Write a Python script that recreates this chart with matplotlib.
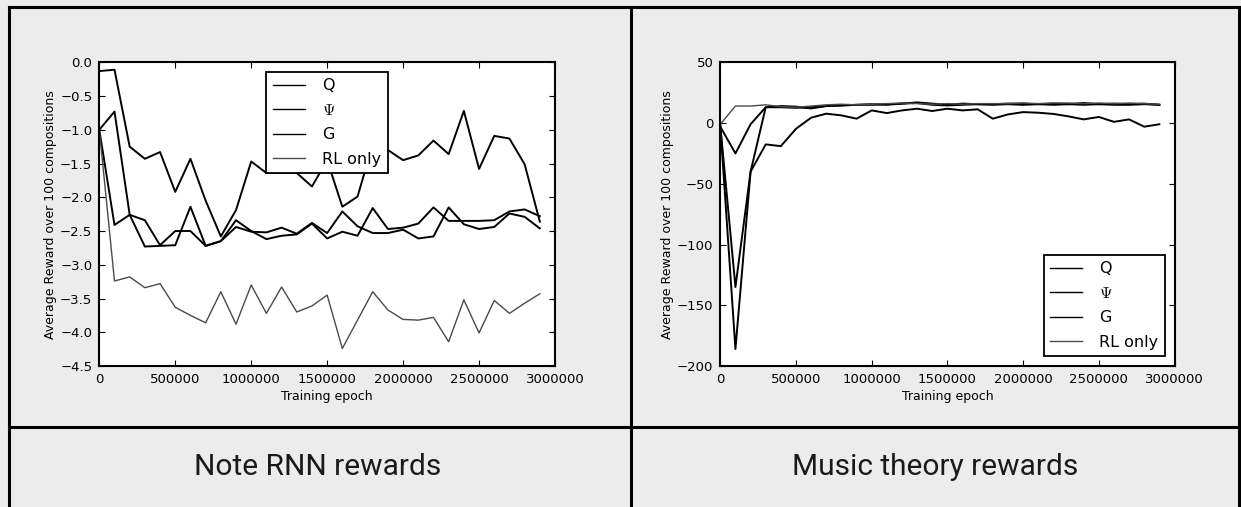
import numpy as np
import matplotlib
matplotlib.use("Agg")
import matplotlib.pyplot as plt
from matplotlib.lines import Line2D

plt.rcParams["mathtext.fontset"] = "cm"

# training epochs, one point every 100000
epochs = [0, 100000, 200000, 300000, 400000, 500000, 600000, 700000, 800000, 900000,
          1000000, 1100000, 1200000, 1300000, 1400000, 1500000, 1600000, 1700000, 1800000, 1900000,
          2000000, 2100000, 2200000, 2300000, 2400000, 2500000, 2600000, 2700000, 2800000, 2900000]

series_labels = ["Q", r"$\Psi$", "G", "RL only"]

# Note RNN rewards (left panel)
note_q = [-0.13, -0.11, -1.25, -1.43, -1.33, -1.92, -1.43, -2.05, -2.58, -2.19,
          -1.47, -1.64, -1.64, -1.64, -1.84, -1.45, -2.14, -1.99, -1.22, -1.30,
          -1.45, -1.38, -1.16, -1.36, -0.72, -1.58, -1.09, -1.13, -1.51, -2.36]
note_psi = [-1.0, -2.41, -2.26, -2.34, -2.71, -2.50, -2.50, -2.72, -2.65, -2.34,
            -2.50, -2.62, -2.57, -2.55, -2.39, -2.61, -2.51, -2.57, -2.16, -2.47,
            -2.45, -2.39, -2.15, -2.35, -2.35, -2.35, -2.34, -2.21, -2.18, -2.28]
note_g = [-1.0, -0.73, -2.26, -2.73, -2.72, -2.71, -2.14, -2.72, -2.65, -2.44,
          -2.51, -2.52, -2.45, -2.54, -2.38, -2.53, -2.21, -2.43, -2.53, -2.53,
          -2.48, -2.61, -2.58, -2.15, -2.40, -2.47, -2.44, -2.24, -2.29, -2.46]
note_rl = [-1.0, -3.24, -3.18, -3.34, -3.28, -3.63, -3.75, -3.86, -3.40, -3.88,
           -3.30, -3.72, -3.33, -3.70, -3.61, -3.45, -4.24, -3.82, -3.40, -3.67,
           -3.81, -3.82, -3.78, -4.14, -3.52, -4.01, -3.53, -3.72, -3.57, -3.43]

# Music theory rewards (right panel)
theory_q = [-3, -25, -1, 13, 14, 13.5, 12, 14, 14.5, 15,
            15.5, 15, 16, 17, 16, 15, 16, 15.5, 15.5, 16,
            16, 15.5, 16, 15.5, 16.5, 15.5, 16, 15.5, 16, 15]
theory_psi = [-2, -186, -40, 13, 13, 12.5, 13, 14, 14.5, 15,
              15, 15.5, 16, 16.5, 15, 14.5, 15, 15.5, 15, 15.5,
              15, 15.5, 15, 15.5, 15, 15.5, 15, 15, 15.5, 15]
theory_g = [-2, -135, -40, -17.6, -19, -4.7, 4.4, 7.7, 6.3, 3.6,
            10.4, 8.2, 10.4, 11.8, 9.9, 11.8, 10.4, 11.3, 3.6, 7.1,
            9, 8.5, 7.5, 5.5, 3, 5, 1, 3, -3, -1]
theory_rl = [-1, 14, 14, 15, 13.5, 13, 14, 15, 15.5, 15,
             15.5, 16, 16.5, 16, 15.5, 16, 15.5, 16, 16, 16,
             16.5, 16, 16.5, 16.5, 16, 16.5, 16, 16.5, 16, 15.5]

captions = ["Note RNN rewards", "Music theory rewards"]
x_ticks = [0, 500000, 1000000, 1500000, 2000000, 2500000, 3000000]
note_yticks = [0.0, -0.5, -1.0, -1.5, -2.0, -2.5, -3.0, -3.5, -4.0, -4.5]
theory_yticks = [50, 0, -50, -100, -150, -200]

W, H = 1241, 507
fig = plt.figure(figsize=(W / 100, H / 100), dpi=100)
fig.patch.set_facecolor("#ececec")


def fx(px):
    return px / W


def fy(py):
    return 1 - py / H


# table grid lines
grid_kw = dict(color="black", lw=2.2, transform=fig.transFigure, zorder=5)
fig.add_artist(Line2D([fx(9), fx(1239)], [fy(7), fy(7)], **grid_kw))
fig.add_artist(Line2D([fx(9), fx(1239)], [fy(427), fy(427)], **grid_kw))
for xpos in [9, 631, 1239]:
    fig.add_artist(Line2D([fx(xpos), fx(xpos)], [fy(7), fy(507)], **grid_kw))

# captions
for cx, txt in zip([318, 935], captions):
    fig.text(fx(cx), fy(467), txt, ha="center", va="center",
             fontsize=21.5, family="Roboto", color="#1a1a1a")


def draw_panel(ax, q, psi, g, rl, yticks, ylim, legend_loc):
    ax.set_facecolor("white")
    ax.plot(epochs, q, color="black", lw=1.4, label=series_labels[0])
    ax.plot(epochs, psi, color="black", lw=1.4, label=series_labels[1])
    ax.plot(epochs, g, color="black", lw=1.4, label=series_labels[2])
    ax.plot(epochs, rl, color="#4a4a4a", lw=1.0, label=series_labels[3])
    ax.set_xlim(0, 3000000)
    ax.set_ylim(*ylim)
    ax.set_xticks(x_ticks)
    ax.set_yticks(yticks)
    ax.ticklabel_format(style="plain", useOffset=False)
    ax.tick_params(direction="in", top=True, right=True, labelsize=9.5,
                   length=4, width=0.8, pad=5)
    for sp in ax.spines.values():
        sp.set_linewidth(1.5)
    ax.set_xlabel("Training epoch", fontsize=9, labelpad=3)
    ax.set_ylabel("Average Reward over 100 compositions", fontsize=9, labelpad=2)
    leg = ax.legend(loc=legend_loc, fontsize=11.5, fancybox=False, framealpha=1,
                    edgecolor="black", handlelength=2.0, handletextpad=1.1,
                    borderpad=0.4, labelspacing=0.6, borderaxespad=0.6)
    leg.get_frame().set_linewidth(1.3)
    for h in leg.get_lines():
        h.set_linewidth(1.0)


ax1 = fig.add_axes([fx(99.3), fy(366), fx(555) - fx(99.3), fy(62.3) - fy(366)])
draw_panel(ax1, note_q, note_psi, note_g, note_rl, note_yticks, (-4.5, 0.0), "upper center")

ax2 = fig.add_axes([fx(720.3), fy(366), fx(1174.5) - fx(720.3), fy(62.3) - fy(366)])
draw_panel(ax2, theory_q, theory_psi, theory_g, theory_rl, theory_yticks, (-200, 50), "lower right")

fig.savefig("out.png", dpi=100, facecolor=fig.get_facecolor())
